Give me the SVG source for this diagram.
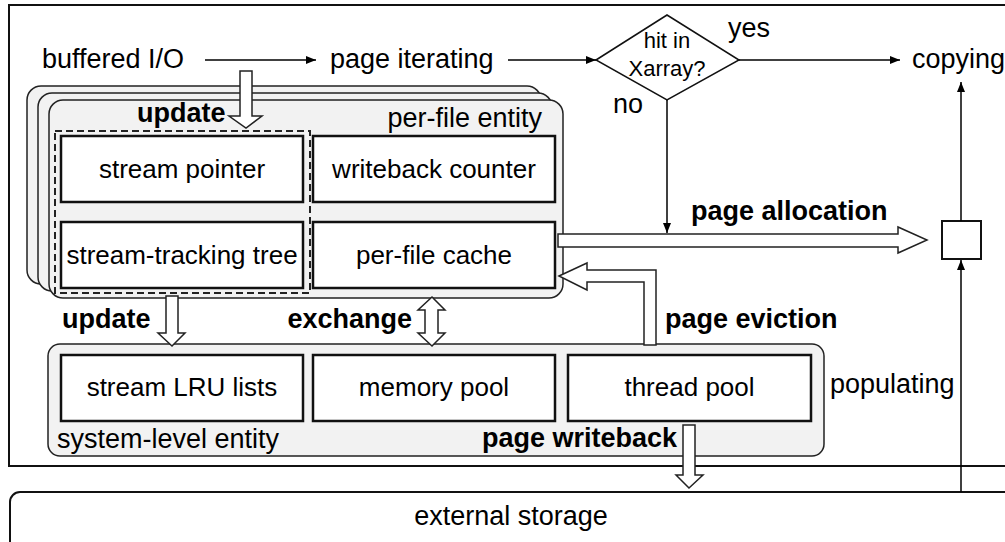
<svg xmlns="http://www.w3.org/2000/svg" width="1005" height="542" viewBox="0 0 1005 542">
<style>
text{font-family:"Liberation Sans",Arial,sans-serif;fill:#000}
.t{font-size:27px}
.b{font-size:27px;font-weight:bold}
.bx{font-size:26px;text-anchor:middle}
.dm{font-size:22px;text-anchor:middle}
.card{fill:#f2f2f2;stroke:#222;stroke-width:1.5}
.box{fill:#fff;stroke:#111;stroke-width:2.5}
.ln{fill:none;stroke:#000;stroke-width:1.5}
.ha{fill:#fff;stroke:#222;stroke-width:1.5;stroke-linejoin:miter}
</style>
<defs>
<marker id="ah" markerUnits="userSpaceOnUse" markerWidth="10" markerHeight="8" refX="10" refY="4" orient="auto">
<path d="M0,0 L10,4 L0,8 z" fill="#000"/>
</marker>
</defs>
<rect id="frame" x="9" y="5" width="1010" height="461" fill="#fff" stroke="#111" stroke-width="2"/>
<g id="external-storage">
<rect x="10" y="492" width="1010" height="80" rx="10" fill="#fff" stroke="#111" stroke-width="2"/>
<text class="t" x="511" y="525" text-anchor="middle">external storage</text>
</g>
<g id="buffered-io"><text class="t" x="42" y="68">buffered I/O</text></g>
<g id="page-iterating"><text class="t" x="330" y="68">page iterating</text></g>
<g id="copying"><text class="t" x="912" y="68">copying</text></g>
<g id="decision">
<polygon points="596,60 667,15 739,60 667,100" fill="#fff" stroke="#111" stroke-width="1.5"/>
<text class="dm" x="667" y="48">hit in</text>
<text class="dm" x="667" y="76">Xarray?</text>
</g>
<g id="per-file-entity">
<rect class="card" x="27" y="86" width="514" height="198" rx="14"/>
<rect class="card" x="38" y="93" width="514" height="198" rx="14"/>
<rect class="card" x="49" y="100" width="514" height="198" rx="14"/>
<text class="t" x="542" y="127" text-anchor="end">per-file entity</text>
</g>
<g id="stream-pointer"><rect class="box" x="61" y="136" width="242" height="66"/><text class="bx" x="182" y="178">stream pointer</text></g>
<g id="writeback-counter"><rect class="box" x="313" y="136" width="242" height="66"/><text class="bx" x="434" y="178">writeback counter</text></g>
<g id="stream-tracking-tree"><rect class="box" x="61" y="222" width="242" height="66"/><text class="bx" x="182" y="264">stream-tracking tree</text></g>
<g id="per-file-cache"><rect class="box" x="313" y="222" width="242" height="66"/><text class="bx" x="434" y="264">per-file cache</text></g>
<rect id="stream-group" x="55" y="131" width="255" height="162" fill="none" stroke="#222" stroke-width="2" stroke-dasharray="7,4"/>
<g id="system-level-entity">
<rect class="card" x="48" y="344" width="776" height="112" rx="12"/>
<text class="t" x="57" y="448">system-level entity</text>
</g>
<g id="stream-lru"><rect class="box" x="61" y="355" width="242" height="66"/><text class="bx" x="182" y="396">stream LRU lists</text></g>
<g id="memory-pool"><rect class="box" x="313" y="355" width="242" height="66"/><text class="bx" x="434" y="396">memory pool</text></g>
<g id="thread-pool"><rect class="box" x="568" y="355" width="243" height="66"/><text class="bx" x="689.5" y="396">thread pool</text></g>
<g id="junction"><rect x="942" y="221" width="39" height="38" fill="#fff" stroke="#111" stroke-width="2"/></g>
<g id="connectors">
<line class="ln" x1="205" y1="60" x2="316" y2="60" marker-end="url(#ah)"/>
<line class="ln" x1="508" y1="60" x2="596" y2="60" marker-end="url(#ah)"/>
<line class="ln" x1="739" y1="60" x2="900" y2="60" marker-end="url(#ah)"/>
<line class="ln" x1="667" y1="100" x2="667" y2="233" marker-end="url(#ah)"/>
<line class="ln" x1="961" y1="221" x2="961" y2="82" marker-end="url(#ah)"/>
<line class="ln" x1="961" y1="492" x2="961" y2="260" marker-end="url(#ah)"/>
<polygon class="ha" points="240,71 252,71 252,116 262,116 246,128 229,116 240,116"/>
<polygon class="ha" points="166,296 178,296 178,333 185,333 172,346 158,333 166,333"/>
<polygon class="ha" points="432,297 445,310 438,310 438,333 445,333 432,346 418,333 425,333 425,310 418,310"/>
<polygon class="ha" points="558,234 898,234 898,227 927,240 898,253 898,247 558,247"/>
<polygon class="ha" points="559,276 587,263 587,270 656,270 656,345 644,345 644,282 587,282 587,290"/>
<polygon class="ha" points="683,425 695,425 695,475 703,475 689,488 676,475 683,475"/>
</g>
<g id="labels">
<text class="t" x="728" y="37">yes</text>
<text class="t" x="613" y="113">no</text>
<text class="b" x="137" y="122">update</text>
<text class="b" x="691" y="220">page allocation</text>
<text class="b" x="62" y="328">update</text>
<text class="b" x="412" y="328" text-anchor="end">exchange</text>
<text class="b" x="665" y="328">page eviction</text>
<text class="t" x="830" y="393">populating</text>
<text class="b" x="677" y="447" text-anchor="end">page writeback</text>
</g>
</svg>
